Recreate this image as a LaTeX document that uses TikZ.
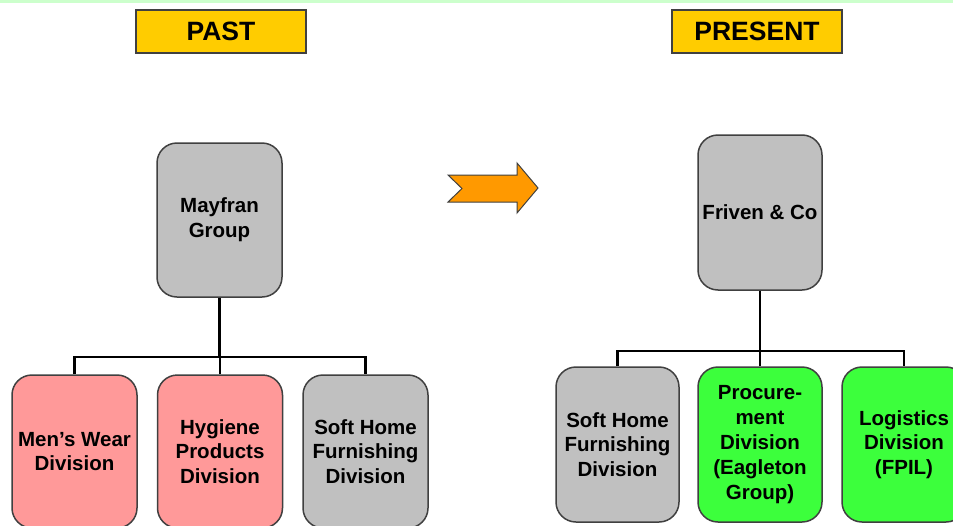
\documentclass[tikz,border=0pt]{standalone}
\usepackage{fontspec}
\setmainfont{Liberation Sans}
\definecolor{boxline}{HTML}{404040}
\definecolor{labelfill}{HTML}{FFCC00}
\definecolor{greyfill}{HTML}{C0C0C0}
\definecolor{pinkfill}{HTML}{FF9999}
\definecolor{greenfill}{HTML}{3CFF3C}
\definecolor{arrowfill}{HTML}{FF9900}
\definecolor{stripgreen}{HTML}{CCFFCC}
\tikzset{
  orgbox/.style={rectangle, rounded corners=20pt, draw=boxline, line width=1.5pt,
    minimum width=125pt, minimum height=154pt, align=center, inner sep=1pt,
    font=\fontsize{20.5}{24.8}\selectfont\bfseries},
  tagbox/.style={rectangle, draw=boxline, line width=1.3pt, fill=labelfill,
    minimum width=170pt, minimum height=43pt, font=\fontsize{26.5}{28}\selectfont\bfseries},
  conn/.style={line width=2.3pt, draw=black}
}
\begin{document}
\begin{tikzpicture}[x=1pt,y=-1pt]
\useasboundingbox (0,0) rectangle (953,525);
\clip (0,0) rectangle (953,525);
\fill[white] (0,0) rectangle (953,525);
\fill[stripgreen] (0,0) rectangle (953,3);

\node[tagbox] (past) at (221,31.5) {PAST};
\node[tagbox] (present) at (757,31.5) {PRESENT};

% past
\node[orgbox, fill=greyfill] (mayfran) at (219.5,220) {Mayfran\\Group};
\node[orgbox, fill=pinkfill, minimum height=153pt] (mens) at (74.5,451.5) {Men’s Wear\\Division};
\node[orgbox, fill=pinkfill, minimum height=153pt] (hyg) at (220,451.5) {Hygiene\\Products\\Division};
\node[orgbox, fill=greyfill, minimum height=153pt] (softA) at (365.5,451.5) {Soft Home\\Furnishing\\Division};
\coordinate (busA) at (219.5,357);
\draw[conn] (mayfran.south) -- (busA);
\draw[conn] (mens.north) |- (busA) -| (softA.north);
\draw[conn] (hyg.north) -- (hyg.north |- busA);

% present
\node[orgbox, fill=greyfill, minimum height=155pt, minimum width=124pt] (friven) at (760,212.5) {Friven \& Co};
\node[orgbox, fill=greyfill, minimum height=155pt, minimum width=123pt] (softB) at (617.5,444.5) {Soft Home\\Furnishing\\Division};
\node[orgbox, fill=greenfill, minimum height=155pt, minimum width=124pt] (proc) at (760,444.5) {Procure-\\ment\\Division\\(Eagleton\\Group)};
\node[orgbox, fill=greenfill, minimum height=155pt, minimum width=124pt] (logi) at (904,444.5) {Logistics\\Division\\(FPIL)};
\coordinate (busB) at (760,351);
\draw[conn] (friven.south) -- (busB);
\draw[conn] (softB.north) |- (busB) -| (logi.north);
\draw[conn] (proc.north) -- (proc.north |- busB);

% arrow
\draw[draw=boxline, line width=1pt, fill=arrowfill, line join=miter]
  (448,175) -- (517,175) -- (517,163) -- (538,188) -- (517,213) -- (517,202)
  -- (448,202) -- (462,188.5) -- cycle;
\end{tikzpicture}
\end{document}
